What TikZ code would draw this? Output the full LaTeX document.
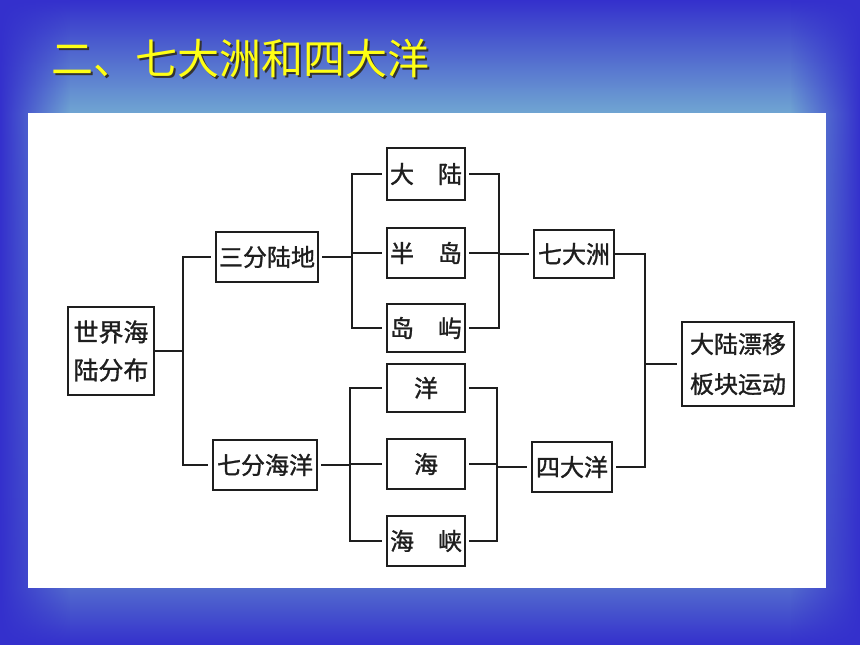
\documentclass[tikz,border=0pt]{standalone}
\usepackage{fontspec}
\usepackage{tikz}
\usetikzlibrary{fadings}
\newfontfamily\cjk{Noto Sans CJK SC}
\newfontfamily\cjkbox[FakeBold=1.2]{Noto Sans CJK SC}
\newcommand*\boxfont{\cjkbox\fontsize{24pt}{30pt}\selectfont}
\newcommand*\twofont{\cjkbox\fontsize{25pt}{38pt}\selectfont}
\newcommand*\driftfont{\cjkbox\fontsize{24pt}{40pt}\selectfont}
\newcommand*\titlefont{\cjk\fontsize{42pt}{48pt}\selectfont}
\newcommand*\shadowtext[1]{\makebox[0pt][l]{\raisebox{-2pt}{\hspace{2pt}\color{black!80}#1}}#1}
\definecolor{bgdeep}{RGB}{52,48,204}
\definecolor{bgmid}{RGB}{82,106,206}
\definecolor{bglight}{RGB}{112,166,210}
\definecolor{linegray}{RGB}{30,30,30}
\definecolor{titleyellow}{RGB}{255,255,20}
\pgfdeclareverticalshading{slidebg}{100bp}{color(0bp)=(bgdeep); color(25bp)=(bgdeep); color(29.4bp)=(bgmid); color(66.2bp)=(bglight); color(75bp)=(bgdeep); color(100bp)=(bgdeep)}
\tikzset{
    box/.style  = {draw=linegray, line width=2pt, fill=white,
                   inner sep=0pt, outer sep=0pt, text=linegray, font=\boxfont},
    link/.style = {draw=linegray, line width=2pt, shorten >=5pt},
    gap/.style  = {shorten <=4pt},
  }
\begin{document}
\begin{tikzpicture}[x=1pt,y=-1pt]
        \useasboundingbox (0,0) rectangle (860,645);
        % slide background and white panel
        \shade[shading=slidebg] (0,0) rectangle (860,645);
        \fill[bgdeep, path fading=east] (0,0) rectangle (70,645);
        \fill[bgdeep, path fading=west] (790,0) rectangle (860,645);
        \fill[white] (28,113) rectangle (826,588);

        % title (yellow, with dark shadow)
        \node[anchor=west, text=titleyellow, font=\titlefont] (title) at (48,59) {\shadowtext{二、七大洲和四大洋}};

        % column 1 and 2
        \node[box, minimum width=86pt, minimum height=88pt, font=\twofont, align=left] (world) at (111,351) {世界海\\陆分布};
        \node[box, minimum width=102pt, minimum height=50pt] (land) at (267,257) {三分陆地};
        \node[box, minimum width=104pt, minimum height=50pt] (sea) at (265,465) {七分海洋};

        % column 3
        \node[box, minimum width=78pt, minimum height=52pt] (cont) at (426,174) {大　陆};
        \node[box, minimum width=78pt, minimum height=50pt] (penin) at (426,253) {半　岛};
        \node[box, minimum width=78pt, minimum height=48pt] (isle) at (426,328) {岛　屿};
        \node[box, minimum width=78pt, minimum height=48pt] (ocean) at (426,388) {洋};
        \node[box, minimum width=78pt, minimum height=50pt] (searea) at (426,464) {海};
        \node[box, minimum width=78pt, minimum height=50pt] (strait) at (426,541) {海　峡};

        % column 4 and 5
        \node[box, minimum width=80pt, minimum height=48pt] (seven) at (574,254) {七大洲};
        \node[box, minimum width=80pt, minimum height=50pt] (four) at (572,467) {四大洋};
        \node[box, minimum width=112pt, minimum height=84pt, font=\driftfont, align=left] (drift) at (738,364) {大陆漂移\\板块运动};

        % brackets between the columns
        \draw[link] (world.east) -- ++(29,0) |- (land.west);
        \draw[link] (world.east) -- ++(29,0) |- (sea.west);
        \foreach \k in {cont,penin,isle}
            \draw[link,gap] (land.east) -- ++(34,0) |- (\k.west);
        \foreach \k in {ocean,searea,strait}
            \draw[link,gap] (sea.east) -- ++(33,0) |- (\k.west);
        \foreach \k in {cont,penin,isle}
            \draw[link,gap] (\k.east) -- ++(34,0) |- (seven.west);
        \foreach \k in {ocean,searea,strait}
            \draw[link,gap] (\k.east) -- ++(32,0) |- (four.west);
        \draw[link] (seven.east) -- ++(31,0) |- (drift.west);
        \draw[link,gap] (four.east) -- ++(33,0) |- (drift.west);
\end{tikzpicture}
\end{document}
